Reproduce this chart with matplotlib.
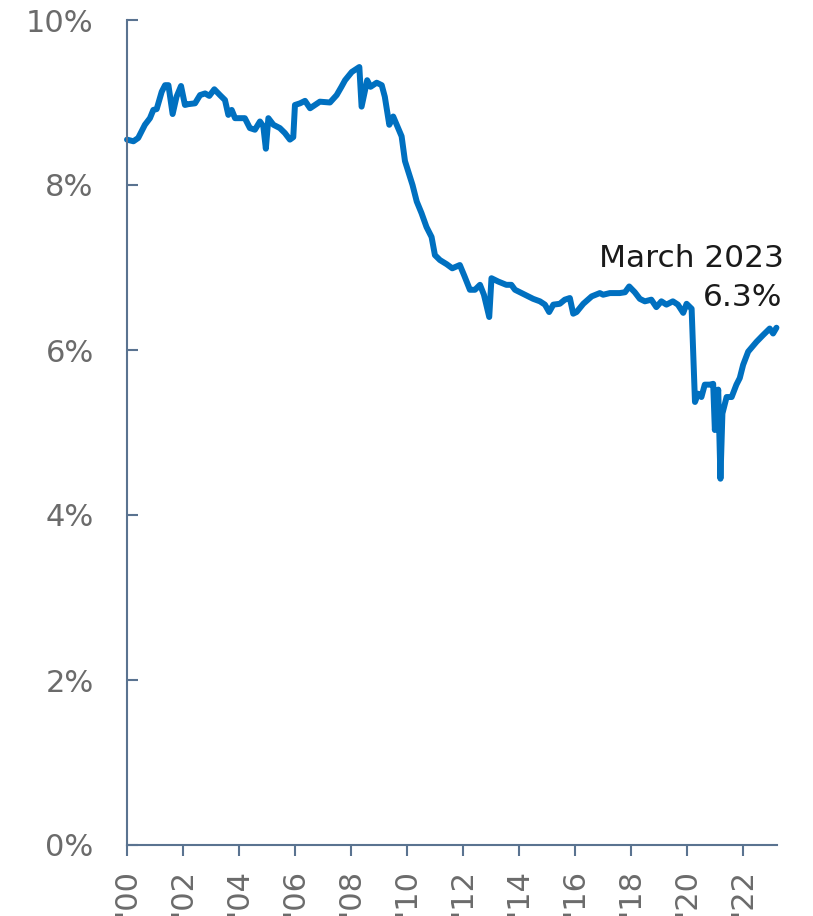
import matplotlib
matplotlib.use("Agg")
import matplotlib.pyplot as plt
from matplotlib.ticker import FuncFormatter

# Decimal year of each observation
dates = [
    2000.00, 2000.23, 2000.40, 2000.64, 2000.82, 2000.94, 2001.06, 2001.24, 2001.36, 2001.48,
    2001.63, 2001.77, 2001.93, 2002.07, 2002.19, 2002.43, 2002.61, 2002.79, 2002.94, 2003.12,
    2003.32, 2003.50, 2003.62, 2003.74, 2003.86, 2004.21, 2004.39, 2004.57, 2004.75, 2004.87,
    2004.96, 2005.05, 2005.23, 2005.46, 2005.64, 2005.82, 2005.94, 2006.00, 2006.18, 2006.36,
    2006.54, 2006.89, 2007.25, 2007.49, 2007.66, 2007.79, 2008.03, 2008.30, 2008.38, 2008.58,
    2008.70, 2008.92, 2009.10, 2009.21, 2009.37, 2009.51, 2009.81, 2009.93, 2010.20, 2010.35,
    2010.52, 2010.70, 2010.88, 2011.00, 2011.18, 2011.42, 2011.62, 2011.89, 2012.05, 2012.25,
    2012.43, 2012.61, 2012.75, 2012.94, 2013.02, 2013.26, 2013.55, 2013.73, 2013.86, 2014.21,
    2014.51, 2014.75, 2014.93, 2015.08, 2015.23, 2015.46, 2015.64, 2015.82, 2015.94, 2016.06,
    2016.30, 2016.60, 2016.89, 2017.01, 2017.25, 2017.60, 2017.79, 2017.94, 2018.14, 2018.32,
    2018.50, 2018.73, 2018.91, 2019.09, 2019.27, 2019.50, 2019.68, 2019.87, 2019.99, 2020.17,
    2020.29, 2020.40, 2020.52, 2020.64, 2020.82, 2020.94, 2021.00, 2021.12, 2021.20, 2021.27,
    2021.42, 2021.60, 2021.77, 2021.89, 2022.01, 2022.19, 2022.49, 2022.72, 2022.96, 2023.08,
    2023.20,
]

# Rate (%)
rate = [
    8.55, 8.53, 8.57, 8.73, 8.81, 8.91, 8.92, 9.13, 9.21, 9.21,
    8.86, 9.07, 9.20, 8.97, 8.98, 8.99, 9.09, 9.11, 9.08, 9.16,
    9.09, 9.03, 8.85, 8.91, 8.81, 8.81, 8.69, 8.67, 8.77, 8.71,
    8.44, 8.81, 8.73, 8.69, 8.63, 8.55, 8.58, 8.97, 8.99, 9.02,
    8.93, 9.01, 9.00, 9.09, 9.19, 9.27, 9.37, 9.43, 8.95, 9.27,
    9.19, 9.24, 9.21, 9.07, 8.73, 8.83, 8.59, 8.29, 8.00, 7.80,
    7.66, 7.49, 7.37, 7.15, 7.09, 7.04, 6.99, 7.03, 6.90, 6.73,
    6.73, 6.79, 6.67, 6.40, 6.87, 6.83, 6.79, 6.79, 6.73, 6.67,
    6.62, 6.59, 6.55, 6.46, 6.55, 6.56, 6.61, 6.63, 6.44, 6.46,
    6.56, 6.65, 6.69, 6.67, 6.69, 6.69, 6.70, 6.77, 6.70, 6.62,
    6.59, 6.61, 6.52, 6.59, 6.55, 6.59, 6.55, 6.45, 6.56, 6.50,
    5.37, 5.47, 5.43, 5.58, 5.58, 5.59, 5.03, 5.52, 4.44, 5.23,
    5.43, 5.43, 5.58, 5.66, 5.82, 5.98, 6.10, 6.18, 6.26, 6.20,
    6.27,
]

x_ticks = [2000, 2002, 2004, 2006, 2008, 2010, 2012, 2014, 2016, 2018, 2020, 2022]
x_tick_labels = ["'00", "'02", "'04", "'06", "'08", "'10", "'12", "'14", "'16", "'18", "'20", "'22"]
y_ticks = [0, 2, 4, 6, 8, 10]

annot_line1 = "March 2023"
annot_line2 = "6.3%"

line_color = "#0070C0"
spine_color = "#5A7390"
tick_text_color = "#6B6B6B"

plt.rcParams["font.family"] = ["DejaVu Sans"]

fig = plt.figure(figsize=(8.13, 9.16), dpi=100)
ax = fig.add_axes([127 / 813, 1 - 845 / 916, (777 - 127) / 813, (845 - 20) / 916])

ax.plot(dates, rate, color=line_color, lw=4.3, solid_joinstyle="round", solid_capstyle="round",
        clip_on=False)

ax.set_xlim(2000, 2023.22)
ax.set_ylim(0, 10)

ax.set_xticks(x_ticks)
ax.set_xticklabels(x_tick_labels, rotation=90, va="top", ha="center")
ax.set_yticks(y_ticks)
ax.yaxis.set_major_formatter(FuncFormatter(lambda v, p: f"{v:.0f}%"))

for s in ["top", "right"]:
    ax.spines[s].set_visible(False)
for s in ["left", "bottom"]:
    ax.spines[s].set_color(spine_color)
    ax.spines[s].set_linewidth(1.5)

ax.tick_params(axis="x", direction="out", length=8, width=1.5, color=spine_color,
               labelsize=22, labelcolor=tick_text_color, pad=9)
ax.tick_params(axis="y", direction="in", length=8, width=1.5, color=spine_color,
               labelsize=22, labelcolor=tick_text_color, pad=24)

ax.text(2023.46, 7.006, annot_line1, ha="right", va="baseline", fontsize=22.5,
        color="#1A1A1A", clip_on=False)
ax.text(2023.40, 6.533, annot_line2, ha="right", va="baseline", fontsize=22.5,
        color="#1A1A1A", clip_on=False)

fig.savefig("out.png", dpi=100)
